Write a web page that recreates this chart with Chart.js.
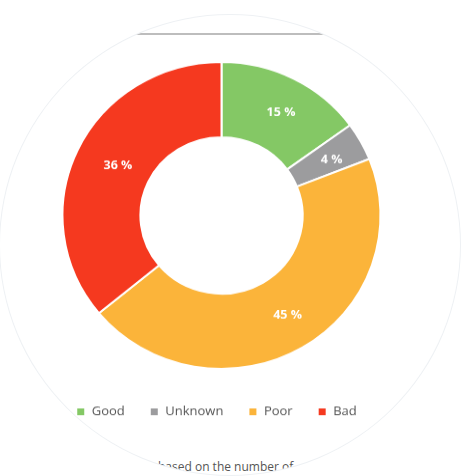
<!DOCTYPE html>
<html>
<head>
<meta charset="utf-8">
<script src="https://cdn.jsdelivr.net/npm/chart.js@4.4.1/dist/chart.umd.min.js"></script>
<style>
  html, body { margin:0; padding:0; background:#fff; width:461px; height:476px; overflow:hidden; }
  #disc { position:absolute; left:0; top:15px; width:460px; height:460px; border-radius:50%; overflow:hidden; background:#fff; box-shadow: 0 0 0 1px #eef1f4; }
  #hline { position:absolute; left:0; top:18px; width:460px; height:2px; background:#bdbdbd; }
  #wrap { position:absolute; left:0; top:46px; width:443px; height:380px; transform: scaleY(0.965); transform-origin: 0 0; }
  #note { position:absolute; left:158px; top:443px; font-family:"Open Sans", sans-serif; font-size:12px; color:#555; white-space:nowrap; }
</style>
</head>
<body>
<div id="disc">
  <div id="hline"></div>
  <div id="wrap"><canvas id="c"></canvas></div>
  <div id="note">based on the number of</div>
</div>
<script>
const categories = ["Good", "Unknown", "Poor", "Bad"];
const values = [15, 4, 45, 36];
const colors = ["#84c865", "#9c9c9e", "#fbb43a", "#f5391f"];

const labelPlugin = {
  id: 'pctLabels',
  afterDatasetsDraw(chart) {
    const ctx = chart.ctx;
    const meta = chart.getDatasetMeta(0);
    ctx.save();
    ctx.font = 'bold 12.5px "Open Sans", sans-serif';
    ctx.fillStyle = '#ffffff';
    ctx.textAlign = 'center';
    ctx.textBaseline = 'middle';
    meta.data.forEach((arc, i) => {
      const p = arc.tooltipPosition();
      ctx.fillText(values[i] + ' %', p.x + 5, p.y);
    });
    ctx.restore();
  }
};

const legendShift = {
  id: 'legendShift',
  afterLayout(chart) {
    const lg = chart.legend;
    if (!lg) return;
    lg.top += 12; lg.bottom += 12;
    lg.left -= 5; lg.right -= 5;
  }
};

new Chart(document.getElementById('c'), {
  type: 'doughnut',
  data: {
    labels: categories,
    datasets: [{
      data: values,
      backgroundColor: colors,
      borderColor: '#ffffff',
      borderWidth: 2,
      hoverOffset: 0
    }]
  },
  options: {
    responsive: true,
    maintainAspectRatio: false,
    animation: false,
    cutout: '51%',
    layout: { padding: { bottom: 12 } },
    plugins: {
      tooltip: { enabled: false },
      legend: {
        position: 'bottom',
        labels: {
          boxWidth: 9,
          boxHeight: 9,
          padding: 25,
          color: '#555555',
          font: { family: '"Open Sans", sans-serif', size: 13 }
        }
      }
    }
  },
  plugins: [labelPlugin, legendShift]
});
</script>
</body>
</html>
